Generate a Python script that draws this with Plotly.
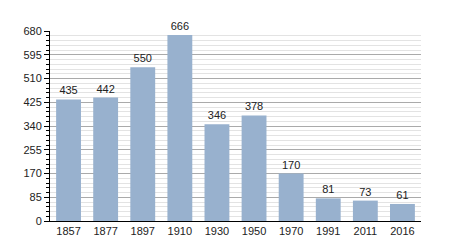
import plotly.graph_objects as go

years = ["1857", "1877", "1897", "1910", "1930", "1950", "1970", "1991", "2011", "2016"]
population = [435, 442, 550, 666, 346, 378, 170, 81, 73, 61]
y_ticks = [0, 85, 170, 255, 340, 425, 510, 595, 680]

fig = go.Figure(go.Bar(
    x=years, y=population,
    text=[str(v) for v in population],
    textposition="outside",
    textfont=dict(family="Liberation Sans, Arial", size=11, color="#222"),
    marker=dict(color="#98b1ce", line=dict(width=0)),
    cliponaxis=False,
))

fig.update_layout(
    width=450, height=250,
    margin=dict(l=50, r=29, t=31, b=29),
    plot_bgcolor="white", paper_bgcolor="white",
    bargap=0.33,
    showlegend=False,
    font=dict(family="Liberation Sans, Arial", size=11, color="#222"),
)
fig.update_xaxes(
    type="category",
    showline=True, linecolor="black", linewidth=1,
    ticks="", showgrid=False,
    tickfont=dict(size=11, color="#222"),
)
fig.update_yaxes(
    range=[0, 680],
    tickvals=y_ticks,
    ticktext=[str(v) for v in y_ticks],
    showline=True, linecolor="black", linewidth=1,
    ticks="outside", ticklen=5, tickcolor="black",
    showgrid=True, gridcolor="#aaaaaa", gridwidth=1,
    zeroline=False,
    minor=dict(dtick=17, showgrid=True, gridcolor="#e3e3e3", gridwidth=1,
               ticks="outside", ticklen=3, tickcolor="black"),
    tickfont=dict(size=11, color="#222"),
)

fig.write_html("out.html")
